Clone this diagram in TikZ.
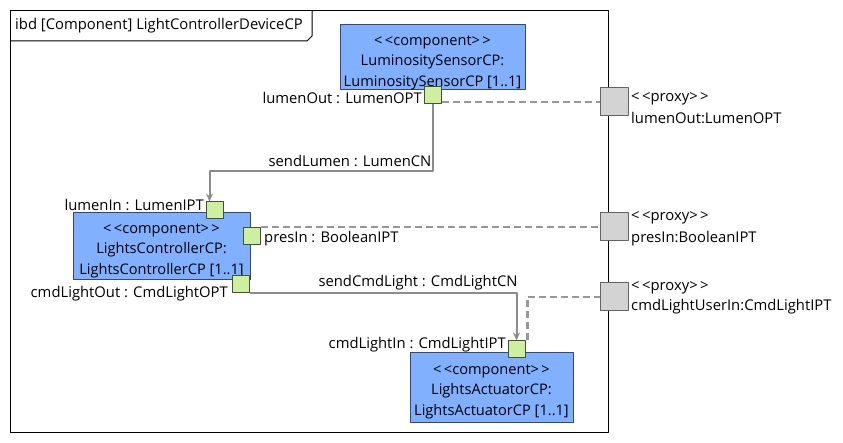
\documentclass[tikz,border=0pt]{standalone}
\usepackage{fontspec}
\setmainfont{Open Sans}
\usetikzlibrary{arrows.meta,calc}

\definecolor{compblue}{RGB}{128,176,255}
\definecolor{compedge}{RGB}{58,72,104}
\definecolor{portgreen}{RGB}{204,240,160}
\definecolor{portedge}{RGB}{70,80,55}
\definecolor{proxygray}{RGB}{211,211,211}
\definecolor{proxyedge}{RGB}{100,100,100}
\definecolor{linkgray}{RGB}{140,140,140}

\newcommand{\stereo}[1]{<\,<#1>\,>}

\begin{document}
\begin{tikzpicture}[x=1pt,y=-1pt,>={Stealth[length=8pt,width=7pt]},line join=round,
  comp/.style={draw=compedge,fill=compblue,line width=1pt,align=center,inner sep=0pt,
    font=\fontsize{14.6}{20.5}\selectfont},
  port/.style={draw=portedge,fill=portgreen,minimum size=17pt,inner sep=0pt,line width=1pt},
  proxy/.style={draw=proxyedge,fill=proxygray,minimum size=28pt,inner sep=0pt,line width=1pt},
  link/.style={draw=linkgray,line width=2pt},
  bind/.style={draw=linkgray!90,line width=2.4pt,dash pattern=on 7pt off 4pt},
  lbl/.style={font=\fontsize{14.8}{16}\selectfont,inner sep=1pt}]

\useasboundingbox (0,0) rectangle (843,443);

%% ---------------- diagram frame ----------------
\draw[line width=1pt] (10,11) rectangle (608,432);
\draw[line width=1pt] (10,41) -- (307,41) -- (312,36) -- (312,11);
\node[lbl,anchor=west] (title) at (14,26) {ibd [Component] LightControllerDeviceCP};

%% ---------------- parts ----------------
%% the strut pushes the three lines a little below the box centre
\node[comp,minimum width=185pt,minimum height=65pt] (lumSensor) at (432.5,57.5)
  {\rule{0pt}{20pt}\stereo{component}\\LuminositySensorCP:\\LuminositySensorCP [1..1]};
\node[comp,minimum width=177pt,minimum height=67pt] (lightsCtrl) at (161.5,246.5)
  {\rule{0pt}{18pt}\stereo{component}\\LightsControllerCP:\\LightsControllerCP [1..1]};
\node[comp,minimum width=163pt,minimum height=70pt] (lightsAct) at (491.5,387.5)
  {\rule{0pt}{18pt}\stereo{component}\\LightsActuatorCP:\\LightsActuatorCP [1..1]};

%% ---------------- ports ----------------
\node[port] (lumenOut) at (432.5,95.5) {};
\node[port] (lumenIn) at (214.5,210.5) {};
\node[port] (presIn) at (252,236.5) {};
\node[port] (cmdLightOut) at (240.5,284.5) {};
\node[port] (cmdLightIn) at (516.5,349.5) {};

\node[lbl,anchor=east] (lumenOutLbl) at (423,98) {lumenOut : LumenOPT};
\node[lbl,anchor=east] (lumenInLbl) at (205,205) {lumenIn : LumenIPT};
\node[lbl,anchor=west] (presInLbl) at (263,239) {presIn : BooleanIPT};
\node[lbl,anchor=east] (cmdLightOutLbl) at (229,294) {cmdLightOut : CmdLightOPT};
\node[lbl,anchor=east] (cmdLightInLbl) at (507,345) {cmdLightIn : CmdLightIPT};

%% ---------------- proxy ports on the boundary ----------------
\node[proxy] (pxLumen) at (614,102) {};
\node[proxy] (pxPres) at (614,227) {};
\node[proxy] (pxCmd) at (614,297) {};

\node[lbl,anchor=west] (pxLumenSt) at (630,99) {\stereo{proxy}};
\node[lbl,anchor=west] (pxLumenLbl) at (630,118) {lumenOut:LumenOPT};
\node[lbl,anchor=west] (pxPresSt) at (630,218) {\stereo{proxy}};
\node[lbl,anchor=west] (pxPresLbl) at (630,239) {presIn:BooleanIPT};
\node[lbl,anchor=west] (pxCmdSt) at (630,288) {\stereo{proxy}};
\node[lbl,anchor=west] (pxCmdLbl) at (630,307) {cmdLightUserIn:CmdLightIPT};

%% ---------------- connectors ----------------
\coordinate (lumenInTip) at ($(lumenIn.north west)+(4pt,0)$);
\draw[link,->] (lumenOut.south) -- ++(0,67) -| (lumenInTip);
\node[lbl] (sendLumenLbl) at (350,161) {sendLumen : LumenCN};

\draw[link,->] (cmdLightOut.south east) -| (cmdLightIn.north);
\node[lbl] (sendCmdLbl) at (418,283) {sendCmdLight : CmdLightCN};

%% delegation to the boundary
\draw[bind] (lumenOut.east |- pxLumen.west) -- (pxLumen.west);
\draw[bind] (presIn.east |- pxPres.west) -- (pxPres.west);
\draw[bind] ($(cmdLightIn.north east)+(2pt,0)$) |- (pxCmd.west);

\end{tikzpicture}
\end{document}
